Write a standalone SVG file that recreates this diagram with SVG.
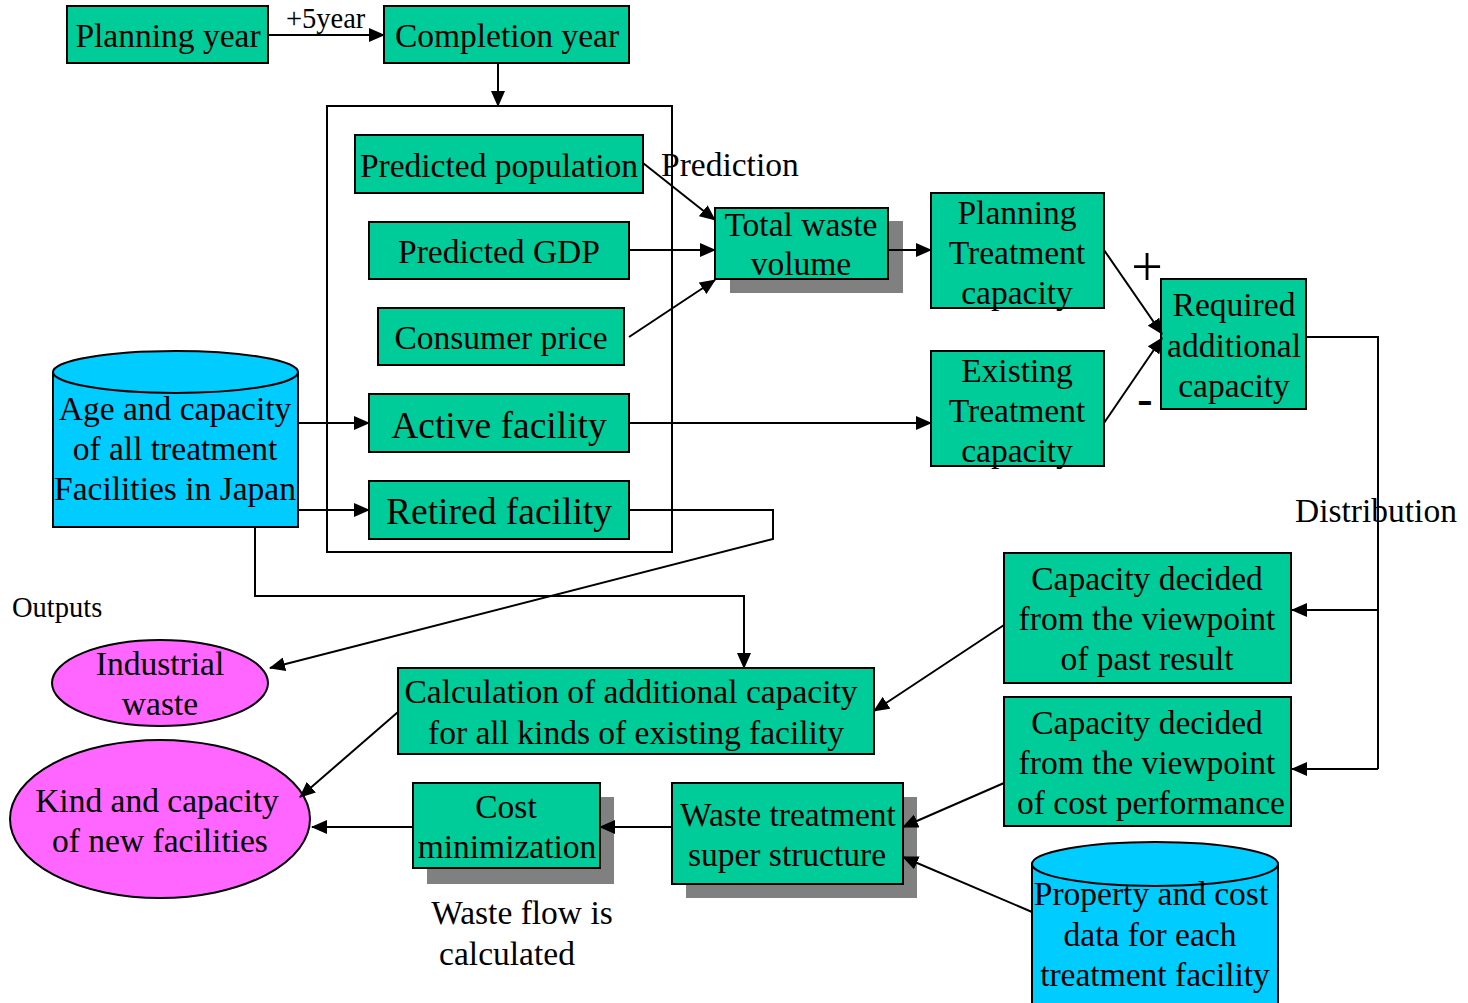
<svg xmlns="http://www.w3.org/2000/svg" width="1468" height="1003" viewBox="0 0 1468 1003">
<defs>
<marker id="ah" markerWidth="16" markerHeight="14" refX="15" refY="7" orient="auto" markerUnits="userSpaceOnUse">
<path d="M0,0 L16,7 L0,14 Z" fill="#000"/>
</marker>
<style>
.box{fill:#00CC99;stroke:#000;stroke-width:2}
.cyl{fill:#00CCFF;stroke:#000;stroke-width:2}
.ell{fill:#FF66FF;stroke:#000;stroke-width:2}
.sh{fill:#808080}
.t{font-family:"Liberation Serif","Times New Roman",serif;font-size:33.5px;fill:#000;text-anchor:middle}
.tl{font-family:"Liberation Serif","Times New Roman",serif;font-size:33.5px;fill:#000}
.big{font-size:37.5px}
.sm{font-size:28.5px}
.c{fill:none;stroke:#000;stroke-width:2}
.a{fill:none;stroke:#000;stroke-width:2;marker-end:url(#ah)}
</style>
</defs>
<rect width="1468" height="1003" fill="#fff"/>

<g id="group-box">
<rect x="327" y="106" width="345" height="446" fill="none" stroke="#000" stroke-width="2"/>
</g>

<g id="planning-year">
<rect class="box" x="67" y="6" width="201" height="57"/>
<text class="t" x="168" y="47">Planning year</text>
</g>
<g id="label-5year">
<text class="tl sm" x="286" y="28">+5year</text>
</g>
<g id="completion-year">
<rect class="box" x="384" y="6" width="245" height="57"/>
<text class="t" x="507" y="47">Completion year</text>
</g>

<g id="predicted-population">
<rect class="box" x="355" y="135" width="288" height="58"/>
<text class="t" x="499" y="177">Predicted population</text>
</g>
<g id="predicted-gdp">
<rect class="box" x="369" y="222" width="260" height="57"/>
<text class="t" x="499" y="263">Predicted GDP</text>
</g>
<g id="consumer-price">
<rect class="box" x="378" y="308" width="246" height="57"/>
<text class="t" x="501" y="349">Consumer price</text>
</g>
<g id="active-facility">
<rect class="box" x="369" y="394" width="260" height="58"/>
<text class="t big" x="499" y="438">Active facility</text>
</g>
<g id="retired-facility">
<rect class="box" x="369" y="481" width="260" height="58"/>
<text class="t big" x="499" y="524">Retired facility</text>
</g>

<g id="age-capacity-db">
<path class="cyl" d="M53,372 L53,527 L298,527 L298,372"/>
<ellipse class="cyl" cx="175.5" cy="372" rx="122.5" ry="21"/>
<text class="t" x="175" y="420">Age and capacity</text>
<text class="t" x="175" y="460">of all treatment</text>
<text class="t" x="175" y="500">Facilities in Japan</text>
</g>

<g id="label-prediction">
<text class="tl" x="661" y="176">Prediction</text>
</g>

<g id="total-waste">
<rect class="sh" x="730" y="221" width="173" height="72"/>
<rect class="box" x="715" y="208" width="173" height="71"/>
<text class="t" x="801" y="236">Total waste</text>
<text class="t" x="801" y="275">volume</text>
</g>

<g id="planning-treatment">
<rect class="box" x="931" y="193" width="173" height="115"/>
<text class="t" x="1017" y="224">Planning</text>
<text class="t" x="1017" y="264">Treatment</text>
<text class="t" x="1017" y="304">capacity</text>
</g>
<g id="existing-treatment">
<rect class="box" x="931" y="351" width="173" height="115"/>
<text class="t" x="1017" y="382">Existing</text>
<text class="t" x="1017" y="422">Treatment</text>
<text class="t" x="1017" y="462">capacity</text>
</g>

<g id="signs">
<text class="t" x="1147" y="286" style="font-size:56px">+</text>
<text class="t" x="1145" y="414" style="font-size:46px;font-weight:bold">-</text>
</g>

<g id="required-capacity">
<rect class="box" x="1161" y="279" width="145" height="130"/>
<text class="t" x="1234" y="316">Required</text>
<text class="t" x="1234" y="357">additional</text>
<text class="t" x="1234" y="397">capacity</text>
</g>

<g id="label-distribution">
<text class="tl" x="1295" y="522">Distribution</text>
</g>

<g id="capacity-past">
<rect class="box" x="1004" y="553" width="287" height="130"/>
<text class="t" x="1147" y="590">Capacity decided</text>
<text class="t" x="1147" y="630">from the viewpoint</text>
<text class="t" x="1147" y="670">of past result</text>
</g>
<g id="capacity-cost">
<rect class="box" x="1004" y="697" width="287" height="129"/>
<text class="t" x="1147" y="734">Capacity decided</text>
<text class="t" x="1147" y="774">from the viewpoint</text>
<text class="t" x="1151" y="814">of cost performance</text>
</g>

<g id="label-outputs">
<text class="tl sm" x="12" y="617">Outputs</text>
</g>

<g id="industrial-waste">
<ellipse class="ell" cx="160" cy="683" rx="108" ry="43"/>
<text class="t" x="160" y="675">Industrial</text>
<text class="t" x="160" y="715">waste</text>
</g>

<g id="calculation">
<rect class="box" x="398" y="668" width="476" height="86"/>
<text class="t" x="631" y="703">Calculation of additional capacity</text>
<text class="t" x="636" y="744">for all kinds of existing facility</text>
</g>

<g id="kind-capacity">
<ellipse class="ell" cx="160" cy="819" rx="150" ry="79"/>
<text class="t" x="157" y="812">Kind and capacity</text>
<text class="t" x="160" y="852">of new facilities</text>
</g>

<g id="cost-minimization">
<rect class="sh" x="427" y="797" width="187" height="87"/>
<rect class="box" x="413" y="783" width="187" height="85"/>
<text class="t" x="506" y="818">Cost</text>
<text class="t" x="507" y="858">minimization</text>
</g>

<g id="super-structure">
<rect class="sh" x="686" y="797" width="231" height="101"/>
<rect class="box" x="672" y="783" width="231" height="101"/>
<text class="t" x="788" y="826">Waste treatment</text>
<text class="t" x="787" y="866">super structure</text>
</g>

<g id="label-waste-flow">
<text class="t" x="522" y="924">Waste flow is</text>
<text class="t" x="507" y="965">calculated</text>
</g>

<g id="property-db">
<path class="cyl" d="M1032,864 L1032,1010 L1278,1010 L1278,864"/>
<ellipse class="cyl" cx="1155" cy="864" rx="123" ry="22"/>
<text class="t" x="1151" y="905">Property and cost</text>
<text class="t" x="1150" y="946">data for each</text>
<text class="t" x="1155" y="986">treatment facility</text>
</g>

<g id="connectors">
<path class="a" d="M268,35 L384,35"/>
<path class="a" d="M498,63 L498,106"/>
<path class="a" d="M643,163 L715,220"/>
<path class="a" d="M629,250 L715,250"/>
<path class="a" d="M629,337 L715,280"/>
<path class="a" d="M888,250 L931,250"/>
<path class="a" d="M298,423 L369,423"/>
<path class="a" d="M298,510 L369,510"/>
<path class="a" d="M629,423 L931,423"/>
<path class="a" d="M1104,250 L1162,334"/>
<path class="a" d="M1104,423 L1162,338"/>
<path class="c" d="M1306,337 L1378,337 L1378,769"/>
<path class="a" d="M1378,610 L1292,610"/>
<path class="a" d="M1378,769 L1292,769"/>
<path class="a" d="M629,510 L773,510 L773,539 L270,668"/>
<path class="a" d="M255,527 L255,596 L744,596 L744,668"/>
<path class="a" d="M1004,625 L874,711"/>
<path class="a" d="M1004,783 L903,827"/>
<path class="a" d="M1032,912 L903,857"/>
<path class="a" d="M398,712 L300,797"/>
<path class="a" d="M672,827 L600,827"/>
<path class="a" d="M413,827 L312,827"/>
</g>
</svg>
